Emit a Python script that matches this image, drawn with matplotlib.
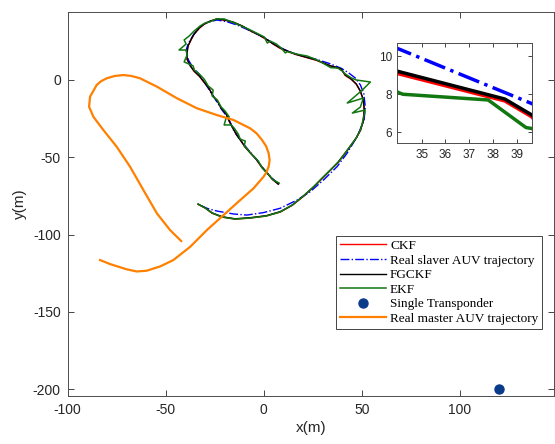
import matplotlib
matplotlib.use("Agg")
from matplotlib import pyplot as plt

# Real slaver AUV trajectory
slave_x = [7.6, 1.6, -3.5, -7.8, -12.0, -15.4, -18.0, -21.3, -25.6, -29.9, -33.3, -35.9,
           -38.4, -39.6, -38.4, -35.9, -32.4, -29.0, -23.9, -18.8, -13.7, -8.6, -3.5, 0.8,
           5.9, 11.0, 17.8, 26.3, 33.1, 39.66, 43.3, 46.7, 49.3, 51.0, 51.8, 51.2, 47.6,
           42.5, 37.4, 30.5, 23.7, 17.0, 8.4, -0.1, -8.6, -15.4, -23.9, -29.0, -33.3]
slave_y = [-67.3, -60.4, -51.8, -45.3, -38.8, -32.4, -24.8, -19.4, -10.8, -2.1, 4.3, 7.6,
           12.9, 19.4, 23.8, 29.1, 34.5, 37.3, 38.8, 37.7, 35.6, 32.8, 29.8, 27.0,
           22.7, 19.4, 16.2, 13.6, 10.85, 7.5, 4.6, 1.3, -3.2, -8.6, -17.3, -26.0, -36.7,
           -47.4, -56.1, -64.7, -72.3, -77.7, -83.0, -85.8, -87.4, -86.7, -84.8, -83.0, -80.5]

# FGCKF estimate
fgckf_x = [7.4, 4.3, 1.3, -1.3, -3.8, -6.9, -9.4, -12.0, -14.0, -16.1, -17.6, -19.2, -21.7,
           -23.7, -25.8, -27.8, -30.4, -32.9, -35.5, -37.5, -39.1, -39.1, -38.6, -37.0, -35.5,
           -32.9, -30.4, -27.3, -23.7, -19.7, -15.6, -11.0, -6.4, -2.3, 1.3, 4.9, 8.4, 12.0,
           16.1, 21.2, 26.8, 34.0, 38.5, 39.66, 41.6, 44.7, 47.2, 49.3, 50.8, 51.3, 50.8,
           49.3, 47.2, 44.2, 41.6, 38.0, 35.0, 29.9, 25.3, 20.2, 14.6, 8.4, 1.3, -6.9,
           -14.6, -21.2, -26.3, -29.9, -33.5]
fgckf_y = [-67.3, -64.1, -59.5, -55.7, -51.1, -47.2, -43.4, -38.8, -35.0, -30.4, -26.5, -22.0,
           -18.1, -13.6, -10.4, -5.8, -1.3, 2.6, 5.8, 9.1, 13.6, 18.1, 22.0, 26.5, 29.8,
           33.7, 36.2, 38.2, 39.5, 38.8, 37.5, 35.0, 31.7, 29.1, 26.5, 23.3, 20.7, 18.8,
           16.8, 14.9, 12.9, 9.2, 7.75, 6.9, 3.2, 0.6, -2.6, -7.1, -12.9, -19.4, -26.5,
           -32.4, -37.5, -42.7, -47.2, -53.1, -57.0, -63.4, -69.3, -75.1, -80.9, -85.2,
           -87.8, -89.1, -89.8, -88.5, -86.0, -82.7, -80.3]

# CKF estimate
ckf_x = [7.5, 4.4, 1.2, -1.4, -3.9, -6.8, -9.5, -11.9, -14.1, -16.0, -17.7, -19.1, -21.8,
         -23.6, -25.9, -27.7, -30.5, -32.8, -35.6, -37.4, -39.2, -39.0, -38.7, -36.9, -35.6,
         -32.8, -30.5, -27.2, -23.8, -19.6, -15.7, -10.9, -6.5, -2.2, 1.2, 5.0, 8.3, 12.1,
         16.0, 21.3, 26.7, 34.0, 38.5, 39.66, 41.5, 44.6, 47.3, 49.2, 50.9, 51.2, 50.7,
         49.4, 47.1, 44.3, 41.5, 38.1, 34.9, 30.0, 25.2, 20.3, 14.5, 8.5, 1.2, -6.8,
         -14.7, -21.1, -26.4, -29.8, -33.4]
ckf_y = [-67.5, -64.3, -59.3, -55.9, -51.3, -47.0, -43.6, -38.6, -35.2, -30.2, -26.7, -21.8,
         -18.3, -13.4, -10.6, -5.6, -1.5, 2.4, 5.6, 9.3, 13.4, 18.3, 21.8, 26.3, 29.6,
         33.5, 36.0, 38.0, 39.3, 38.6, 37.3, 34.8, 31.5, 28.9, 26.3, 23.1, 20.5, 18.6,
         16.6, 14.7, 12.8, 9.08, 7.65, 6.8, 3.0, 0.4, -2.8, -7.3, -13.1, -19.6, -26.7,
         -32.6, -37.7, -42.9, -47.4, -53.3, -57.2, -63.6, -69.5, -75.3, -81.1, -85.4,
         -88.0, -89.3, -90.0, -88.7, -86.2, -82.9, -80.5]

# EKF estimate
ekf_x = [7.9, 4.9, 1.8, -0.8, -2.8, -5.9, -8.4, -10.0, -9.4, -12.0, -13.0, -15.1, -16.6,
         -20.2, -19.2, -17.6, -19.7, -21.7, -23.7, -26.3, -25.8, -28.3, -30.4, -32.9,
         -35.5, -36.0, -40.6, -39.1, -39.6, -43.2, -39.6, -40.6, -38.0, -35.5, -32.4,
         -29.9, -27.8, -24.3, -20.2, -16.1, -11.5, -6.9, -2.8, 0.3, 1.8, 3.3, 6.4, 8.9,
         11.0, 12.0, 16.6, 22.2, 28.0, 34.0, 34.2, 37.8, 39.4, 39.66, 41.6, 44.7, 47.2,
         54.4, 50.3, 42.6, 50.8, 49.3, 45.2, 51.8, 50.3, 49.3, 47.2, 44.2, 41.6, 38.0,
         35.0, 29.9, 25.3, 20.2, 14.6, 8.4, 1.3, -6.9, -14.6, -21.2, -26.3, -29.9, -33.5]
ekf_y = [-66.7, -64.7, -60.2, -57.0, -52.4, -48.5, -44.7, -42.7, -39.5, -38.2, -35.0, -31.1,
         -29.1, -29.1, -24.6, -23.9, -20.1, -17.5, -12.9, -10.4, -6.5, -3.9, 0.6, 3.9,
         6.5, 9.1, 11.7, 16.2, 19.4, 19.4, 23.3, 25.9, 28.5, 31.7, 35.0,
         36.9, 37.5, 39.5, 39.5, 37.5, 35.0, 32.4, 29.8, 27.8, 23.9, 25.2, 23.3, 20.7,
         17.5, 18.3, 16.8, 15.5, 12.5, 8.1, 8.0, 7.7, 6.25, 6.2, 3.9, 1.3, 0.0,
         -1.3, -6.5, -14.9, -11.7, -17.5, -21.4, -19.4, -27.8, -32.4, -37.5, -42.7, -47.2, -53.1,
         -57.0, -63.4, -69.3, -75.1, -80.9, -85.4, -88.0, -89.3, -90.0, -88.7, -86.1, -82.8, -80.3]

# Real master AUV trajectory
master_x = [-42.1, -47.8, -54.5, -61.4, -68.2, -75.0, -81.8, -86.9, -89.1, -88.6, -85.2,
            -83.0, -80.1, -76.0, -71.6, -67.5, -63.1, -54.5, -44.3, -34.1, -23.9, -15.4,
            -6.9, -3.6, -0.9, 1.2, 2.5, 3.0, 2.5, 1.4, -0.1, -5.2, -12.0, -20.5, -29.0,
            -37.5, -46.1, -52.8, -59.7, -64.8, -69.9, -78.4, -83.5]
master_y = [-104.2, -97.1, -86.3, -71.2, -56.1, -43.2, -32.4, -23.8, -17.3, -10.8, -3.2,
            -0.8, 1.1, 2.6, 3.2, 2.6, 1.1, -4.3, -11.8, -18.3, -22.7, -25.9,
            -31.3, -34.6, -38.8, -42.8, -47.4, -51.8, -56.1, -59.6, -62.6, -70.1, -77.7,
            -87.4, -97.1, -107.9, -116.5, -120.6, -123.4, -123.9, -122.5, -119.1, -116.5]

transponder = (120, -200)

C_CKF = "#ff0000"
C_REAL = "#0000ff"
C_FG = "#000000"
C_EKF = "#117711"
C_MASTER = "#ff8000"
C_TP = "#0a3a8a"

plt.rcParams["font.family"] = ["Liberation Sans", "DejaVu Sans"]
plt.rcParams["axes.unicode_minus"] = False

fig = plt.figure(figsize=(5.55, 4.44), dpi=100)
ax = fig.add_axes([0.122, 0.108, 0.877, 0.865])

ax.plot(ckf_x, ckf_y, color=C_CKF, lw=1.0, label="CKF")
ax.plot(slave_x, slave_y, color=C_REAL, lw=1.0, ls="-.", label="Real slaver AUV trajectory")
ax.plot(fgckf_x, fgckf_y, color=C_FG, lw=1.0, label="FGCKF")
ax.plot(ekf_x, ekf_y, color=C_EKF, lw=1.1, label="EKF")
ax.plot([transponder[0]], [transponder[1]], "o", color=C_TP, ms=6.5, ls="none",
        label="Single Transponder")
ax.plot(master_x, master_y, color=C_MASTER, lw=1.6, label="Real master AUV trajectory",
        solid_joinstyle="round")

ax.set_xlim(-100, 148.3)
ax.set_ylim(-204.5, 44)
ax.set_xticks([-100, -50, 0, 50, 100])
ax.set_yticks([-200, -150, -100, -50, 0])
ax.tick_params(direction="in", top=True, right=True, length=4, width=0.6,
               labelsize=10, colors="#262626", labelcolor="#262626", pad=5)
for s in ax.spines.values():
    s.set_color("#4d4d4d")
    s.set_linewidth(0.7)
ax.set_xlabel("x(m)", fontsize=11, color="#262626", labelpad=3)
ax.set_ylabel("y(m)", fontsize=11, color="#262626", labelpad=4)

leg = ax.legend(loc="lower right", bbox_to_anchor=(0.975, 0.1745), fancybox=False,
                framealpha=1, edgecolor="#262626", handlelength=3.5, handletextpad=0.3,
                borderpad=0.3, labelspacing=0.18, borderaxespad=0,
                prop={"family": "Liberation Serif", "size": 9.5})
leg.get_frame().set_linewidth(0.6)

# zoomed view of the upper right part of the track
ins = fig.add_axes([0.716, 0.677, 0.243, 0.2266])
ins.plot(ckf_x, ckf_y, color=C_CKF, lw=2.5)
ins.plot(slave_x, slave_y, color=C_REAL, lw=2.5, ls="-.")
ins.plot(fgckf_x, fgckf_y, color=C_FG, lw=2.5)
ins.plot(ekf_x, ekf_y, color=C_EKF, lw=2.5)
ins.set_xlim(33.97, 39.66)
ins.set_ylim(5.42, 10.7)
ins.set_xticks([35, 36, 37, 38, 39])
ins.set_yticks([6, 8, 10])
ins.tick_params(direction="in", top=True, right=True, length=3, width=0.6,
                labelsize=8.5, colors="#262626", labelcolor="#262626", pad=4)
for s in ins.spines.values():
    s.set_color("#4d4d4d")
    s.set_linewidth(0.7)

fig.savefig("out.png", dpi=100)
